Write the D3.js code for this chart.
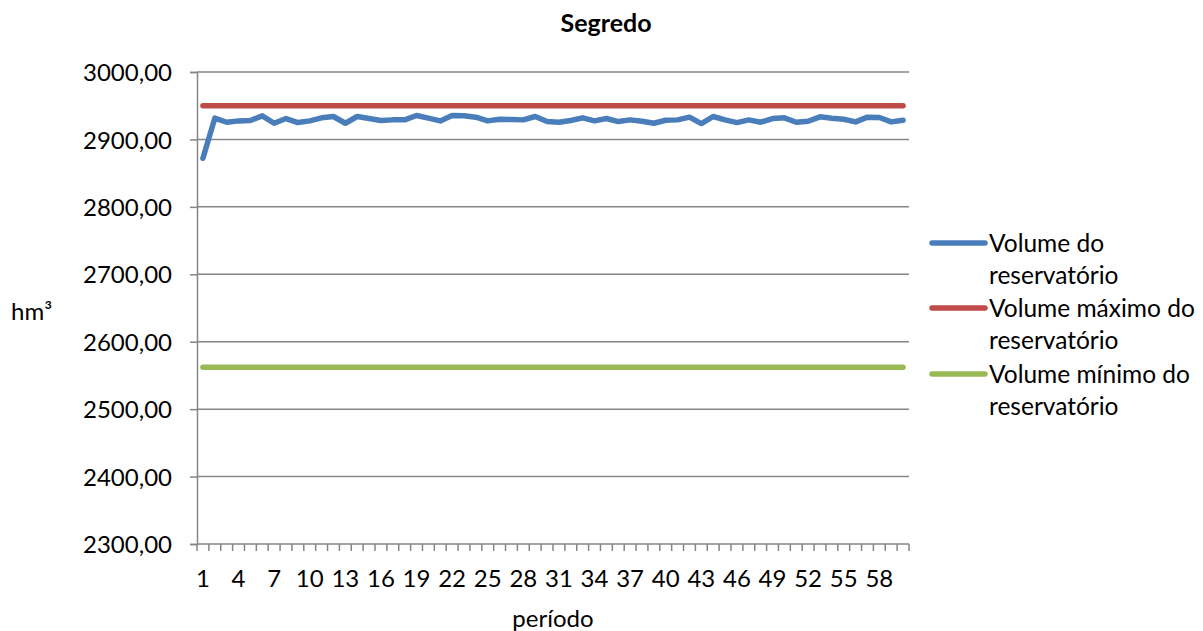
<!DOCTYPE html>
<html>
<head>
<meta charset="utf-8">
<script src="https://cdn.jsdelivr.net/npm/d3@7/dist/d3.min.js"></script>
<style>
  html, body { margin: 0; padding: 0; background: #fff; }
  svg { display: block; font-family: Lato, "Noto Sans", sans-serif; }
</style>
</head>
<body>
<svg id="chart" width="1203" height="631"></svg>
<script>
// Reservoir volume of Segredo over 60 periods (hm³)
const periods = d3.range(1, 61);
const volume = [
  2872, 2931.5, 2925.5, 2927.5, 2928, 2935, 2924, 2931, 2925, 2927.5,
  2932, 2934, 2924, 2934, 2931, 2928, 2929, 2929, 2935.5, 2931.5,
  2927.5, 2935.5, 2935, 2933, 2927.5, 2930, 2929.5, 2929, 2934, 2926.5,
  2925.5, 2928, 2932, 2927.5, 2931, 2926.5, 2929, 2927, 2924, 2928.5,
  2929, 2933, 2923.5, 2934, 2929, 2925, 2929, 2925.5, 2931, 2932,
  2925.5, 2927, 2933.5, 2931.5, 2930, 2926, 2933, 2932.5, 2926, 2928.5
];
const volumeMax = 2950;
const volumeMin = 2562;
const yTicks = [2300, 2400, 2500, 2600, 2700, 2800, 2900, 3000];
const xTickLabels = [1, 4, 7, 10, 13, 16, 19, 22, 25, 28, 31, 34, 37, 40, 43, 46, 49, 52, 55, 58];
const seriesNames = [
  ["Volume do", "reservatório"],
  ["Volume máximo do", "reservatório"],
  ["Volume mínimo do", "reservatório"]
];
const colors = ["#4A7EBB", "#BE4B48", "#98B954"];

const svg = d3.select("#chart");
const plot = { left: 197, right: 909, top: 72, bottom: 544 };
const fs = 24;

const x = d3.scaleBand().domain(periods).range([plot.left, plot.right]);
const y = d3.scaleLinear().domain([2300, 3000]).range([plot.bottom, plot.top]);
const cx = p => x(p) + x.bandwidth() / 2;

const grey = "#868686";

// horizontal gridlines
svg.append("g").selectAll("line").data(yTicks.slice(1)).join("line")
  .attr("x1", plot.left).attr("x2", plot.right)
  .attr("y1", d => y(d)).attr("y2", d => y(d))
  .attr("stroke", grey).attr("stroke-width", 1.5);

// y axis
const yAxis = svg.append("g").attr("transform", `translate(${plot.left},0)`)
  .call(d3.axisLeft(y).tickValues(yTicks).tickSize(7).tickPadding(18)
    .tickFormat(d => d3.format(".2f")(d).replace(".", ",")));
yAxis.select(".domain").attr("stroke", grey).attr("stroke-width", 1.5);
yAxis.selectAll(".tick line").attr("stroke", grey).attr("stroke-width", 1.5);
yAxis.selectAll(".tick text").attr("font-size", fs).attr("fill", "#000")
  .attr("font-family", "Lato, sans-serif").attr("dy", "0.36em");

// x axis: tick marks on every category boundary
const bounds = d3.range(0, periods.length + 1).map(i => plot.left + i * x.bandwidth());
const xg = svg.append("g");
xg.append("line").attr("x1", plot.left).attr("x2", plot.right)
  .attr("y1", plot.bottom).attr("y2", plot.bottom)
  .attr("stroke", grey).attr("stroke-width", 1.5);
xg.selectAll("line.tk").data(bounds).join("line").attr("class", "tk")
  .attr("x1", d => d).attr("x2", d => d)
  .attr("y1", plot.bottom).attr("y2", plot.bottom + 7)
  .attr("stroke", grey).attr("stroke-width", 1.5);
xg.selectAll("text").data(xTickLabels).join("text")
  .attr("x", d => cx(d)).attr("y", 587)
  .attr("text-anchor", "middle").attr("font-size", fs).attr("fill", "#000")
  .text(d => d);

// lines
const line = d3.line().x((d, i) => cx(periods[i])).y(d => y(d));
const first = periods[0], last = periods[periods.length - 1];

svg.append("line")
  .attr("x1", cx(first)).attr("x2", cx(last))
  .attr("y1", y(volumeMin)).attr("y2", y(volumeMin))
  .attr("stroke", colors[2]).attr("stroke-width", 5.5).attr("stroke-linecap", "round");
svg.append("line")
  .attr("x1", cx(first)).attr("x2", cx(last))
  .attr("y1", y(volumeMax)).attr("y2", y(volumeMax))
  .attr("stroke", colors[1]).attr("stroke-width", 5.5).attr("stroke-linecap", "round");
svg.append("path").datum(volume).attr("d", line)
  .attr("fill", "none").attr("stroke", colors[0]).attr("stroke-width", 5.5)
  .attr("stroke-linecap", "round").attr("stroke-linejoin", "round");

// title and axis titles
svg.append("text").attr("x", 606).attr("y", 32).attr("text-anchor", "middle")
  .attr("font-size", fs + 1).attr("font-weight", "bold").text("Segredo");
svg.append("text").attr("x", 11).attr("y", 320).attr("font-size", fs).text("hm³");
svg.append("text").attr("x", 553).attr("y", 627).attr("text-anchor", "middle")
  .attr("font-size", fs).text("período");

// legend
const legendLineY = [243, 308, 374];
const lg = svg.append("g");
seriesNames.forEach((lines, i) => {
  lg.append("line").attr("x1", 932).attr("x2", 985)
    .attr("y1", legendLineY[i]).attr("y2", legendLineY[i])
    .attr("stroke", colors[i]).attr("stroke-width", 5.5).attr("stroke-linecap", "round");
  lines.forEach((t, j) => {
    lg.append("text").attr("x", 989).attr("y", legendLineY[i] + 9 + j * 32)
      .attr("font-size", fs + 0.5).attr("fill", "#000").text(t);
  });
});
</script>
</body>
</html>
